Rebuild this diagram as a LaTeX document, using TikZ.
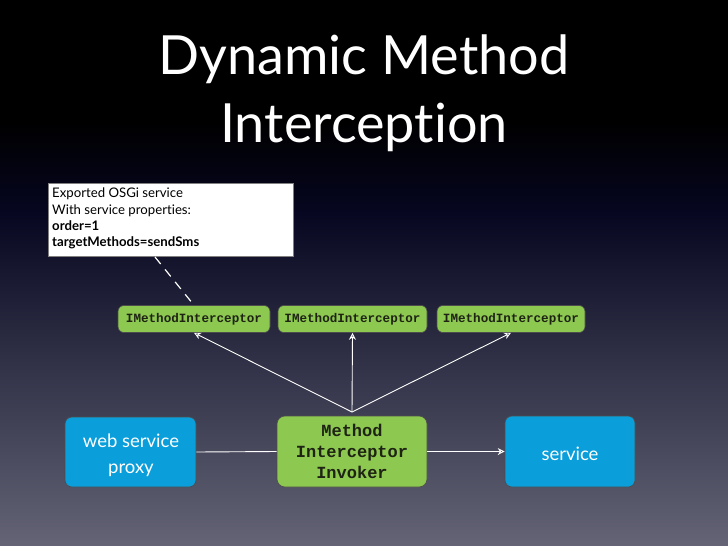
\documentclass[tikz,border=0pt]{standalone}
\usepackage{fontspec}
\setmainfont{Lato}[Ligatures={NoCommon}]
\newfontfamily\monob{Liberation Mono}[BoldFont={Liberation Mono Bold}]
\usetikzlibrary{arrows.meta}
\definecolor{igreen}{RGB}{141,200,80}
\definecolor{iblue}{RGB}{10,158,218}
\definecolor{bgmid}{RGB}{6,6,32}
\definecolor{bgbot}{RGB}{100,100,118}
\definecolor{gtext}{RGB}{30,35,20}
\tikzset{
  greenbox/.style={draw=black!70, line width=0.6pt, fill=igreen, rounded corners=6pt, text=gtext, font=\monob\bfseries\fontsize{12.6}{13}\selectfont, inner sep=0pt},
  bluebox/.style={draw=black!70, line width=0.6pt, fill=iblue, rounded corners=7pt, text=white, font=\fontsize{18.5}{26}\selectfont, align=center, inner sep=0pt},
  conn/.style={draw=white, line width=0.9pt},
  arr/.style={conn, -{Stealth[open, length=7pt, width=7pt]}},
}
\begin{document}
\begin{tikzpicture}[x=1pt,y=-1pt]
\fill[black] (0,0) rectangle (728,121);
\shade[top color=black, bottom color=bgmid] (0,120) rectangle (728,211);
\shade[top color=bgmid, bottom color=bgbot] (0,210) rectangle (728,546);
\useasboundingbox (0,0) rectangle (728,546);
\node[text=white, font=\fontsize{54}{68}\selectfont, align=center] (title) at (364,93) {Dynamic Method\\Interception};
\node[draw=black!50, fill=white, minimum width=245pt, minimum height=73pt, anchor=north west, inner sep=0pt] (osgi) at (48,183) {};
\node[anchor=north west, align=left, font=\fontsize{13.2}{16.3}\selectfont, inner sep=0pt, text=black] (osgit) at (52,188) {Exported OSGi service\\With service properties:\\\textbf{order=1}\\\textbf{targetMethods=sendSms}};
\node[greenbox, minimum width=152pt, minimum height=27pt] (i1) at (194,319) {IMethodInterceptor};
\node[greenbox, minimum width=149pt, minimum height=27pt] (i2) at (352.5,319) {IMethodInterceptor};
\node[greenbox, minimum width=148pt, minimum height=27pt] (i3) at (511,319) {IMethodInterceptor};
\node[greenbox, minimum width=150pt, minimum height=71pt, rounded corners=8pt, align=center, font=\monob\bfseries\fontsize{17}{21}\selectfont] (inv) at (352,451.5) {Method\\Interceptor\\Invoker};
\node[bluebox, minimum width=131pt, minimum height=70pt] (proxy) at (130.5,452) {};
\node[text=white, font=\fontsize{18.5}{26}\selectfont, align=center, inner sep=0pt] (proxyt) at (131,455) {web service\\proxy};
\node[bluebox, minimum width=130pt, minimum height=71pt] (svc) at (570,451.5) {};
\node[text=white, font=\fontsize{18.5}{26}\selectfont, inner sep=0pt] (svct) at (570,453.5) {service};
\coordinate (dstart) at (155,257);
\draw[white, line width=1.2pt, dash pattern=on 9pt off 7pt] (dstart) -- (i1.north);
\coordinate (hub) at (352,412);
\draw[arr] (hub) -- (i1.south);
\draw[arr] (hub) -- (i2.south);
\draw[arr] (hub) -- (i3.south);
\draw[conn] (proxy.east) -- (inv.west);
\draw[arr] (inv.east) -- (svc.west);
\end{tikzpicture}
\end{document}
